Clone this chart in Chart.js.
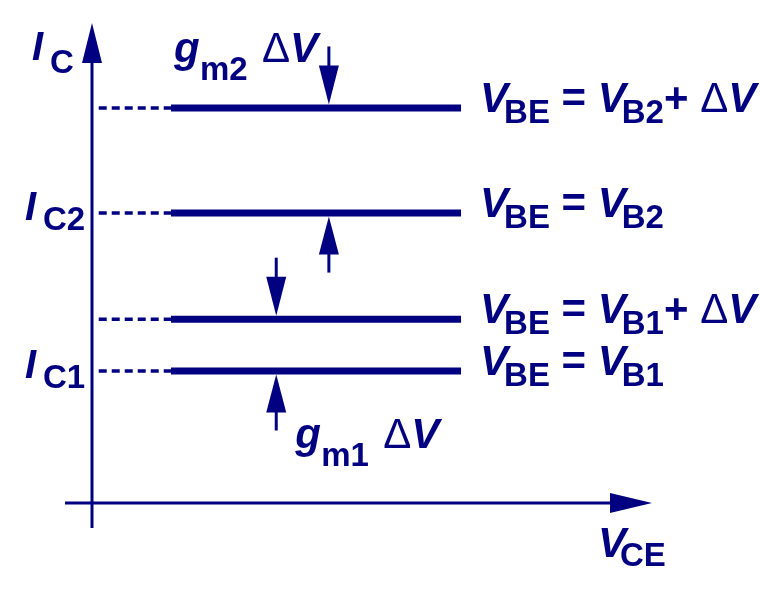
<!DOCTYPE html>
<html>
<head>
<meta charset="utf-8">
<script src="https://cdn.jsdelivr.net/npm/chart.js@4.4.1/dist/chart.umd.min.js"></script>
<style>
  html, body { margin: 0; padding: 0; background: #fff; }
  #wrap { width: 760px; height: 606px; }
</style>
</head>
<body>
<div id="wrap"><canvas id="myChart"></canvas></div>
<script>
// collector current levels (arbitrary units), bottom to top
const levels = [27.5, 38.3, 60.4, 82.3];
const levelBase = ['B1', 'B1', 'B2', 'B2'];
const levelDelta = [false, true, false, true];
// V_CE span of the flat lines, and where the dashed leaders start
const lineSpan = [14.1, 65.9];
const dashFrom = 1.2;
// y axis tick labels
const tickLevels = [27.5, 60.4];
const tickNames = ['C1', 'C2'];
// g_m arrows
const gmNames = ['m1', 'm2'];
const gmX = [32.9, 42.3];
const gmPairs = [[27.5, 38.3], [60.4, 82.3]];

const NAVY = '#000080';
const FAM = '"Liberation Sans", Arial, sans-serif';
const fonts = {
  i: 'italic bold 42px ' + FAM,
  s: 'bold 33px ' + FAM,
  b: 'bold 42px ' + FAM,
  d: '42px ' + FAM
};

function seg(ctx, x1, y1, x2, y2) {
  ctx.beginPath();
  ctx.moveTo(x1, y1);
  ctx.lineTo(x2, y2);
  ctx.stroke();
}

// filled arrow head, tip at (tx,ty), pointing along (dx,dy)
function head(ctx, tx, ty, dx, dy, len, half) {
  const bx = tx - dx * len, by = ty - dy * len;
  ctx.beginPath();
  ctx.moveTo(tx, ty);
  ctx.lineTo(bx - dy * half, by + dx * half);
  ctx.lineTo(bx + dy * half, by - dx * half);
  ctx.closePath();
  ctx.fill();
}

// draws text pieces one after another; subscripts drop 11px
function parts(ctx, x, y, list) {
  list.forEach(p => {
    ctx.font = fonts[p[1]];
    const dy = p[1] === 's' ? 11 : 0;
    if (p[1] === 's') x -= 4;
    ctx.fillText(p[0], x, y + dy);
    x += ctx.measureText(p[0]).width;
  });
}

const datasets = [];
levels.forEach(v => {
  datasets.push({
    data: [{x: lineSpan[0], y: v}, {x: lineSpan[1], y: v}],
    borderColor: NAVY, borderWidth: 7, borderCapStyle: 'butt'
  });
  datasets.push({
    data: [{x: dashFrom, y: v}, {x: lineSpan[0], y: v}],
    borderColor: NAVY, borderWidth: 3.5, borderDash: [8, 5], borderCapStyle: 'butt'
  });
});

const sketch = {
  id: 'sketch',
  afterDatasetsDraw(chart) {
    const {ctx} = chart;
    const xs = chart.scales.x, ys = chart.scales.y;
    const x0 = xs.getPixelForValue(0), y0 = ys.getPixelForValue(0);
    const xTip = xs.getPixelForValue(100), yTip = ys.getPixelForValue(100);
    ctx.save();
    ctx.strokeStyle = NAVY;
    ctx.fillStyle = NAVY;
    ctx.lineWidth = 3;
    ctx.textBaseline = 'alphabetic';

    // axes with arrows
    seg(ctx, x0, y0 + 25, x0, yTip + 30);
    seg(ctx, x0 - 27, y0, xTip - 30, y0);
    head(ctx, x0, yTip, 0, -1, 40, 10);
    head(ctx, xTip, y0, 1, 0, 42, 10);

    // g_m arrows
    gmX.forEach((gx, i) => {
      const px = xs.getPixelForValue(gx);
      const lo = ys.getPixelForValue(gmPairs[i][0]) + 3.5;
      const hi = ys.getPixelForValue(gmPairs[i][1]) - 3.5;
      seg(ctx, px, hi - 58, px, hi - 30);
      head(ctx, px, hi, 0, 1, 39, 10);
      seg(ctx, px, lo + 56, px, lo + 30);
      head(ctx, px, lo, 0, -1, 38, 10);
    });

    // labels on the right of each line
    const lx = xs.getPixelForValue(lineSpan[1]) + 19;
    levels.forEach((v, i) => {
      const list = [['V', 'i'], ['BE', 's'], [' = ', 'b'], ['V', 'i'], [levelBase[i], 's']];
      if (levelDelta[i]) list.push(['+ ', 'b'], ['\u0394', 'd'], ['V', 'i']);
      parts(ctx, lx, ys.getPixelForValue(v) + 4, list);
    });

    // y axis ticks
    tickLevels.forEach((v, i) => {
      const py = ys.getPixelForValue(v);
      ctx.font = 'italic bold 40px ' + FAM;
      ctx.fillText('I', 25, py + 7);
      ctx.font = fonts.s;
      ctx.fillText(tickNames[i], 43, py + 17);
    });

    // axis titles
    ctx.font = 'italic bold 40px ' + FAM;
    ctx.fillText('I', x0 - 60, yTip + 37);
    ctx.font = fonts.s;
    ctx.fillText('C', x0 - 42, yTip + 50);
    ctx.font = fonts.i;
    ctx.fillText('V', xTip - 54, y0 + 54);
    ctx.font = fonts.s;
    ctx.fillText('CE', xTip - 32, y0 + 63);

    // g_m labels
    const g1x = xs.getPixelForValue(gmX[0]), g2x = xs.getPixelForValue(gmX[1]);
    const gm = (x, y, name) => {
      ctx.font = fonts.i;
      ctx.fillText('g', x, y);
      ctx.font = fonts.s;
      ctx.fillText(name, x + 26, y + 18);
      parts(ctx, x + 88, y, [['\u0394', 'd'], ['V', 'i']]);
    };
    gm(g1x + 19, ys.getPixelForValue(gmPairs[0][0]) + 77, gmNames[0]);
    gm(g2x - 155, ys.getPixelForValue(gmPairs[1][1]) - 46, gmNames[1]);
    ctx.restore();
  }
};

new Chart(document.getElementById('myChart'), {
  type: 'line',
  data: {datasets: datasets},
  options: {
    responsive: true,
    maintainAspectRatio: false,
    animation: false,
    layout: {padding: {left: 92, right: 108, top: 23, bottom: 103}},
    elements: {point: {radius: 0}},
    scales: {
      x: {type: 'linear', min: 0, max: 100, display: false},
      y: {type: 'linear', min: 0, max: 100, display: false}
    },
    plugins: {legend: {display: false}, tooltip: {enabled: false}}
  },
  plugins: [sketch]
});
</script>
</body>
</html>
